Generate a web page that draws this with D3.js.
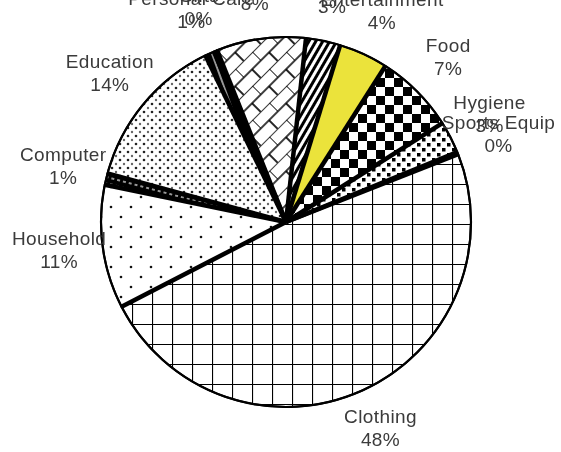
<!DOCTYPE html>
<html>
<head>
<meta charset="utf-8">
<script src="https://cdn.jsdelivr.net/npm/d3@7"></script>
<style>
  body { margin: 0; background: #fff; }
  svg { display: block; }
  text { font-family: "Liberation Sans", Arial, sans-serif; }
</style>
</head>
<body>
<div id="canvas"></div>
<script>
// slices in drawing order (clockwise, starting with Clothing)
const categories = ["Clothing", "Household", "Computer", "Education", "Personal Care", "Gifts",
                    "Travel", "Transport", "Entertainment", "Food", "Hygiene", "Sports Equip"];
const values = [48.4, 10.8, 1.0, 13.6, 0.8, 0.3, 7.8, 3.0, 4.3, 7.0, 2.8, 0.2];

const fills = ["grid", "sparse", "compHatch", "dense", "dark", "dark",
               "brick", "stripes", "yellow", "checker", "confetti", "confetti"];

const width = 561, height = 452;
const cx = 286, cy = 222, radius = 185, labelR = 229;
const startA = 68.5 * Math.PI / 180;

const svg = d3.select("#canvas").append("svg")
  .attr("width", width).attr("height", height);

const defs = svg.append("defs");

// text blur
defs.append("filter").attr("id", "soft")
  .append("feGaussianBlur").attr("stdDeviation", 0.45);

// grid (clothing)
let p = defs.append("pattern").attr("id", "grid").attr("patternUnits", "userSpaceOnUse")
  .attr("width", 20).attr("height", 20).attr("x", cx).attr("y", cy);
p.append("rect").attr("width", 20).attr("height", 20).attr("fill", "#fff");
p.append("path").attr("d", "M0,0H20M0,0V20").attr("stroke", "#000").attr("stroke-width", 2.2);

// sparse dots (household)
p = defs.append("pattern").attr("id", "sparse").attr("patternUnits", "userSpaceOnUse")
  .attr("width", 20).attr("height", 20);
p.append("rect").attr("width", 20).attr("height", 20).attr("fill", "#fff");
p.append("circle").attr("cx", 5).attr("cy", 5).attr("r", 1.3).attr("fill", "#111");
p.append("circle").attr("cx", 15).attr("cy", 15).attr("r", 1.3).attr("fill", "#111");

// dense dots (education)
p = defs.append("pattern").attr("id", "dense").attr("patternUnits", "userSpaceOnUse")
  .attr("width", 8).attr("height", 8);
p.append("rect").attr("width", 8).attr("height", 8).attr("fill", "#fff");
p.append("circle").attr("cx", 2).attr("cy", 2).attr("r", 1.3).attr("fill", "#222");
p.append("circle").attr("cx", 6).attr("cy", 6).attr("r", 1.2).attr("fill", "#666");

// computer sliver hatch
p = defs.append("pattern").attr("id", "compHatch").attr("patternUnits", "userSpaceOnUse")
  .attr("width", 6).attr("height", 6).attr("patternTransform", "rotate(15)");
p.append("rect").attr("width", 6).attr("height", 6).attr("fill", "#000");
p.append("path").attr("d", "M0,3H3").attr("stroke", "#fff").attr("stroke-width", 1.2);

// dark slivers
p = defs.append("pattern").attr("id", "dark").attr("patternUnits", "userSpaceOnUse")
  .attr("width", 8).attr("height", 8).attr("patternTransform", "rotate(70)");
p.append("rect").attr("width", 8).attr("height", 8).attr("fill", "#000");
p.append("path").attr("d", "M0,4H8").attr("stroke", "#fff").attr("stroke-width", 1.2);

// diagonal brick
p = defs.append("pattern").attr("id", "brick").attr("patternUnits", "userSpaceOnUse")
  .attr("width", 24).attr("height", 24).attr("patternTransform", "rotate(-45)");
p.append("rect").attr("width", 24).attr("height", 24).attr("fill", "#fff");
p.append("path").attr("d", "M0,0H24M0,12H24M0,0V12M12,12V24")
  .attr("stroke", "#000").attr("stroke-width", 1.7);

// wide stripes
p = defs.append("pattern").attr("id", "stripes").attr("patternUnits", "userSpaceOnUse")
  .attr("width", 6).attr("height", 6).attr("patternTransform", "rotate(30)");
p.append("rect").attr("width", 6).attr("height", 6).attr("fill", "#fff");
p.append("rect").attr("width", 3).attr("height", 6).attr("fill", "#000");

// solid yellow
p = defs.append("pattern").attr("id", "yellow").attr("patternUnits", "userSpaceOnUse")
  .attr("width", 10).attr("height", 10);
p.append("rect").attr("width", 10).attr("height", 10).attr("fill", "#ebe33b");

// checkerboard
p = defs.append("pattern").attr("id", "checker").attr("patternUnits", "userSpaceOnUse")
  .attr("width", 18).attr("height", 18);
p.append("rect").attr("width", 18).attr("height", 18).attr("fill", "#fff");
p.append("rect").attr("width", 9).attr("height", 9).attr("fill", "#000");
p.append("rect").attr("x", 9).attr("y", 9).attr("width", 9).attr("height", 9).attr("fill", "#000");

// confetti (hygiene)
p = defs.append("pattern").attr("id", "confetti").attr("patternUnits", "userSpaceOnUse")
  .attr("width", 10).attr("height", 10);
p.append("rect").attr("width", 10).attr("height", 10).attr("fill", "#fff");
p.append("rect").attr("x", 1).attr("y", 1).attr("width", 3.5).attr("height", 3.5).attr("fill", "#000");
p.append("rect").attr("x", 6).attr("y", 6).attr("width", 3.5).attr("height", 3.5).attr("fill", "#000");

const total = d3.sum(values);
const pie = d3.pie().sort(null).value(i => values[i])
  .startAngle(startA).endAngle(startA + 2 * Math.PI);
const arcs = pie(d3.range(values.length));

const arc = d3.arc().innerRadius(0).outerRadius(radius);

const g = svg.append("g").attr("transform", `translate(${cx},${cy})`);

g.selectAll("path.slice").data(arcs).enter().append("path")
  .attr("class", "slice")
  .attr("d", arc)
  .attr("fill", d => `url(#${fills[d.data]})`)
  .attr("stroke", "#000")
  .attr("stroke-width", 2)
  .attr("stroke-linejoin", "round");

// thick separators
g.selectAll("line.sep").data(arcs).enter().append("line")
  .attr("class", "sep")
  .attr("x1", 0).attr("y1", 0)
  .attr("x2", d => radius * Math.sin(d.startAngle))
  .attr("y2", d => -radius * Math.cos(d.startAngle))
  .attr("stroke", "#000").attr("stroke-width", 4.5);

g.append("circle").attr("r", radius).attr("fill", "none")
  .attr("stroke", "#000").attr("stroke-width", 2.2);

// labels
const labels = svg.append("g").attr("filter", "url(#soft)");
arcs.forEach(d => {
  const a = (d.startAngle + d.endAngle) / 2;
  const x = cx + labelR * Math.sin(a);
  const y = cy - labelR * Math.cos(a);
  const t = labels.append("text").attr("text-anchor", "middle")
    .attr("font-size", 19).attr("letter-spacing", 0.4).attr("fill", "#3a3a3a");
  t.append("tspan").attr("x", x).attr("y", y - 8).text(categories[d.data]);
  t.append("tspan").attr("x", x).attr("y", y + 15)
    .text(Math.round(values[d.data] / total * 100) + "%");
});
</script>
</body>
</html>
